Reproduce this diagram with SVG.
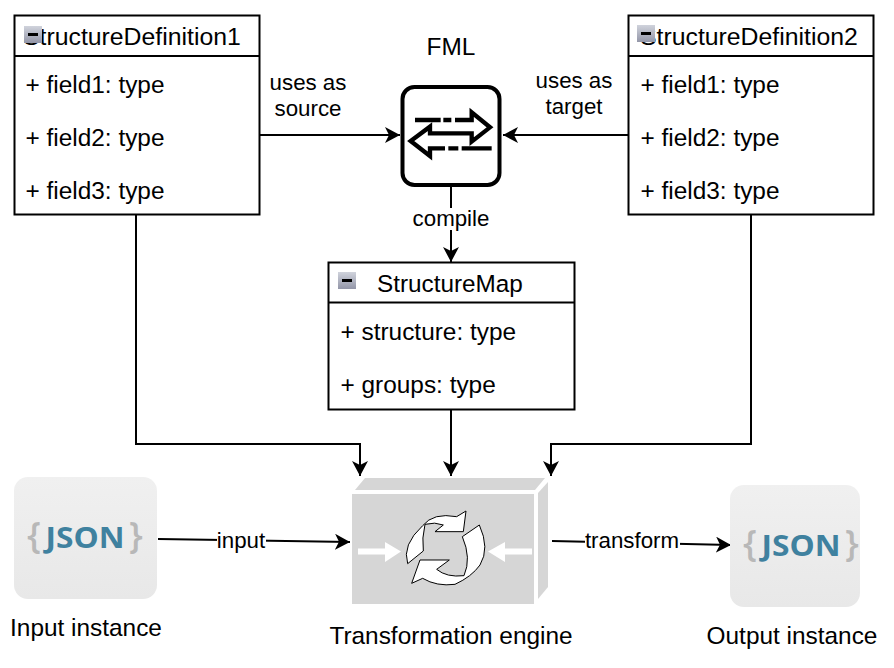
<svg xmlns="http://www.w3.org/2000/svg" width="894" height="668" viewBox="0 0 894 668">
<style>
text{font-family:"Liberation Sans",Arial,sans-serif;fill:#000}
.h{font-size:24.8px}.m{font-size:24.3px}.f{font-size:24.4px}.l{font-size:22.3px;text-anchor:middle}.c{font-size:24.4px;text-anchor:middle}
.box{fill:#fff;stroke:#000;stroke-width:2}
.ln{fill:none;stroke:#000;stroke-width:2}
.w{fill:#fff}
.cyc{fill:#fff;stroke:#000;stroke-width:3;stroke-linejoin:round}
.br{font-family:"Open Sans",sans-serif;font-size:36px;font-weight:600;fill:#b8b8b8;text-anchor:middle}
.js{font-family:"Open Sans",sans-serif;font-size:28px;font-weight:700;fill:#3f819f;text-anchor:middle}
</style>
<defs>
<marker id="a" markerUnits="userSpaceOnUse" markerWidth="18" markerHeight="18" refX="15" refY="8" orient="auto"><path d="M0,0L15,8L0,16L4,8Z" fill="#000"/></marker>
<linearGradient id="ic" x1="0" y1="0" x2="0" y2="1"><stop offset="0" stop-color="#d0d3dc"/><stop offset="1" stop-color="#9396a8"/></linearGradient>
<linearGradient id="jb" x1="0" y1="0" x2="0" y2="1"><stop offset="0" stop-color="#f0f0f0"/><stop offset="1" stop-color="#e8e8e8"/></linearGradient>
<g id="minus"><rect x="0" y="0" width="18" height="17" fill="url(#ic)"/><rect x="4" y="7" width="10" height="3" fill="#000"/></g>
</defs>
<g id="connectors">
<path class="ln" d="M259,135H400" marker-end="url(#a)"/>
<path class="ln" d="M628,135H503" marker-end="url(#a)"/>
<path class="ln" d="M451,186V262" marker-end="url(#a)"/>
<path class="ln" d="M136,215V444H360V476" marker-end="url(#a)"/>
<path class="ln" d="M451,410V476" marker-end="url(#a)"/>
<path class="ln" d="M751,215V444H551V476" marker-end="url(#a)"/>
<path class="ln" d="M158,539L350,542" marker-end="url(#a)"/>
<path class="ln" d="M552,541L731,545" marker-end="url(#a)"/>
<rect x="217" y="530" width="49" height="22" class="w"/>
<rect x="585" y="530" width="95" height="22" class="w"/>
<rect x="413" y="208" width="77" height="22" class="w"/>
<text class="l" x="241" y="548">input</text>
<text class="l" x="632" y="548">transform</text>
<text class="l" x="451" y="226">compile</text>
<text class="l" x="308" y="90">uses as</text>
<text class="l" x="308" y="116">source</text>
<text class="l" x="574" y="88">uses as</text>
<text class="l" x="574" y="114">target</text>
</g>
<g id="sd1">
<rect class="box" x="14.5" y="15.5" width="245" height="199"/>
<path class="ln" d="M14.5,56H259.5"/>
<text class="h" x="23" y="45">StructureDefinition1</text>
<use href="#minus" x="24" y="26"/>
<text class="f" x="25.5" y="93">+ field1: type</text>
<text class="f" x="25.5" y="146">+ field2: type</text>
<text class="f" x="25.5" y="199">+ field3: type</text>
</g>
<g id="sd2">
<rect class="box" x="628.5" y="15.5" width="245" height="199"/>
<path class="ln" d="M628.5,56H873.5"/>
<text class="h" x="640" y="45">StructureDefinition2</text>
<use href="#minus" x="637" y="25"/>
<text class="f" x="640.5" y="93">+ field1: type</text>
<text class="f" x="640.5" y="146">+ field2: type</text>
<text class="f" x="640.5" y="199">+ field3: type</text>
</g>
<g id="fml">
<text class="c" x="451" y="55">FML</text>
<rect x="402.5" y="87" width="97" height="98" rx="12" fill="#fff" stroke="#000" stroke-width="4"/>
<g transform="translate(380,70) scale(.33333)" fill="none" stroke="#000" stroke-width="13">
<path d="M105,150H182M190,150H214M225,150H275V127L330,172L275,215V190H150V170L92,213L150,258V235H195M205,235H235M245,235H335"/>
</g>
</g>
<g id="structuremap">
<rect class="box" x="328.5" y="262.5" width="246" height="147"/>
<path class="ln" d="M328.5,302.5H574.5"/>
<text class="m" x="377" y="292">StructureMap</text>
<use href="#minus" x="338" y="272"/>
<text class="f" x="340.5" y="340">+ structure: type</text>
<text class="f" x="340.5" y="393">+ groups: type</text>
</g>
<g id="input">
<rect x="14" y="477" width="143" height="122" rx="14" fill="url(#jb)"/>
<text class="br" x="34" y="548">{</text>
<text class="js" x="85" y="548" textLength="79" lengthAdjust="spacingAndGlyphs">JSON</text>
<text class="br" x="136" y="548">}</text>
<text class="c" x="86" y="636">Input instance</text>
</g>
<g id="engine">
<path d="M355,490L365,478H545L535,490Z" fill="#d6d6d6"/>
<path d="M538,493L548,482V587L538,599Z" fill="#d6d6d6"/>
<rect x="352" y="494" width="182" height="110" fill="#d6d6d6"/>
<path class="w" d="M358,548.5H385V542L401,551.5L385,562V554.5H358Z"/>
<path class="w" d="M532,548.5H505V542L488,551.5L505,562V554.5H532Z"/>
<g transform="translate(340,465) scale(.33333)">
<path class="cyc" d="M248,182Q280,142 350,155L378,138L370,200H285L310,180Q285,170 255,178Q245,220 250,258L203,296Q185,240 248,182Z"/>
<path class="cyc" d="M367,215L418,180Q450,250 420,300Q395,335 345,358Q290,365 248,340L215,355L240,285H328L290,313Q320,338 372,332Q395,280 367,215Z"/>
</g>
<text class="c" x="451" y="644">Transformation engine</text>
</g>
<g id="output">
<rect x="730" y="485" width="130" height="122" rx="14" fill="url(#jb)"/>
<text class="br" x="750" y="556">{</text>
<text class="js" x="801" y="556" textLength="79" lengthAdjust="spacingAndGlyphs">JSON</text>
<text class="br" x="852" y="556">}</text>
<text class="c" x="792" y="644">Output instance</text>
</g>
</svg>
